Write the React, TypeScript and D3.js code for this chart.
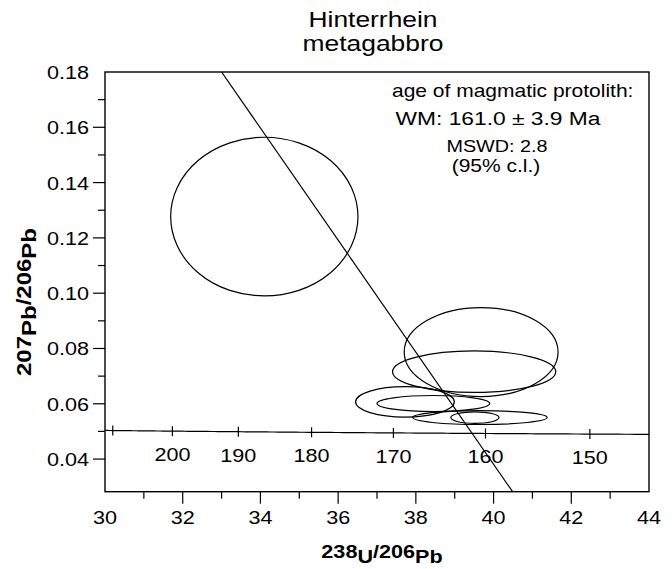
import React from "react";
import * as d3 from "d3";

// Tera-Wasserburg plot, Hinterrhein metagabbro
const xTicks = [30, 32, 34, 36, 38, 40, 42, 44];
const xMinor = [31, 33, 35, 37, 39, 41, 43];
const yTicks = [0.04, 0.06, 0.08, 0.1, 0.12, 0.14, 0.16, 0.18];
const yMinor = [0.05, 0.07, 0.09, 0.11, 0.13, 0.15, 0.17];

// concordia age marks (Ma)
const ageTicks = [150, 160, 170, 180, 190, 200, 210];
const ageLabels = [150, 160, 170, 180, 190, 200];

// error ellipses: centre 238U/206Pb, centre 207Pb/206Pb, half-widths
const ellX = [34.1, 39.68, 39.5, 37.72, 38.45, 39.65, 39.52];
const ellY = [0.1277, 0.0787, 0.0716, 0.0607, 0.0601, 0.055, 0.055];
const ellRx = [2.41, 1.98, 2.1, 1.27, 1.45, 1.73, 0.62];
const ellRy = [0.0287, 0.0161, 0.0075, 0.0055, 0.0029, 0.0025, 0.0021];

// anchored regression line, read where it meets the frame
const refLine: [number, number][] = [
  [33.0, 0.18],
  [40.49, 0.0282],
];

const annotation = ["age of magmatic protolith:", "WM: 161.0 \u00b1 3.9 Ma", "MSWD: 2.8", "(95% c.l.)"];

const L238 = 1.55125e-10;
const L235 = 9.8485e-10;
const U85 = 137.88;
const concordia = (t: number): [number, number] => {
  const e8 = Math.exp(L238 * t * 1e6) - 1;
  const e5 = Math.exp(L235 * t * 1e6) - 1;
  return [1 / e8, e5 / (U85 * e8)];
};

const SX = 1.2;
const FONT = "'Liberation Sans', Arial, Helvetica, sans-serif";

const T = ({ x, y, size, anchor = "start", bold = false, rot = false, children }: any) => (
  <text
    transform={`translate(${x},${y})${rot ? " rotate(-90)" : ""} scale(${SX},1)`}
    fontSize={size}
    fontFamily={FONT}
    fontWeight={bold ? "bold" : "normal"}
    textAnchor={anchor}
    fill="#000"
  >
    {children}
  </text>
);

const App = () => {
  const W = 672;
  const H = 569;
  const left = 105, right = 649, top = 72, bottom = 491.7;

  const x = d3.scaleLinear().domain([30, 44]).range([left, right]);
  const y = d3.scaleLinear().domain([0.0282, 0.18]).range([bottom, top]);

  const curve = d3
    .line<number>()
    .x((t) => x(concordia(t)[0]))
    .y((t) => y(concordia(t)[1]));
  const ages = d3.range(140, 216, 0.5);

  return (
    <svg width={W} height={H} style={{ position: "absolute", left: 0, top: 0, background: "#fff" }}>
      <defs>
        <clipPath id="plot">
          <rect x={left} y={top} width={right - left} height={bottom - top} />
        </clipPath>
      </defs>

      <T x={373} y={27} size={22} anchor="middle">Hinterrhein</T>
      <T x={373} y={51} size={22} anchor="middle">metagabbro</T>

      <g clipPath="url(#plot)" fill="none" stroke="#000">
        <path d={curve(ages) || ""} strokeWidth={1.2} />
        <line
          x1={x(refLine[0][0])}
          y1={y(refLine[0][1])}
          x2={x(refLine[1][0])}
          y2={y(refLine[1][1])}
          strokeWidth={1.2}
        />
        {ellX.map((cx, i) => (
          <ellipse
            key={i}
            cx={x(cx)}
            cy={y(ellY[i])}
            rx={x(cx + ellRx[i]) - x(cx)}
            ry={y(ellY[i]) - y(ellY[i] + ellRy[i])}
            strokeWidth={1.2}
          />
        ))}
        {ageTicks.map((a) => {
          const [cx, cy] = concordia(a);
          return <line key={a} x1={x(cx)} x2={x(cx)} y1={y(cy) - 5} y2={y(cy) + 5} strokeWidth={1.2} />;
        })}
      </g>
      {ageLabels.map((a) => {
        const [cx, cy] = concordia(a);
        return (
          <T key={a} x={x(cx)} y={y(cy) + 30} size={18} anchor="middle">
            {a}
          </T>
        );
      })}

      <rect x={left} y={top} width={right - left} height={bottom - top} fill="none" stroke="#000" strokeWidth={1.4} />

      {/* x axis */}
      {xTicks.map((v) => (
        <g key={v}>
          {v > 30 && v < 44 && <line x1={x(v)} x2={x(v)} y1={bottom} y2={bottom + 12} stroke="#000" strokeWidth={1.2} />}
          <T x={x(v)} y={524} size={18} anchor="middle">
            {v}
          </T>
        </g>
      ))}
      {xMinor.map((v) => (
        <line key={v} x1={x(v)} x2={x(v)} y1={bottom} y2={bottom + 7} stroke="#000" strokeWidth={1.2} />
      ))}

      {/* y axis */}
      {yTicks.map((v) => (
        <g key={v}>
          {v < 0.18 && <line x1={left - 12} x2={left} y1={y(v)} y2={y(v)} stroke="#000" strokeWidth={1.2} />}
          <T x={89} y={y(v) + 7} size={18} anchor="end">
            {v.toFixed(2)}
          </T>
        </g>
      ))}
      {yMinor.map((v) => (
        <line key={v} x1={left - 7} x2={left} y1={y(v)} y2={y(v)} stroke="#000" strokeWidth={1.2} />
      ))}

      {/* axis titles */}
      <T x={382} y={558} size={18} anchor="middle" bold>
        238<tspan dy={5}>U</tspan>
        <tspan dy={-5}>/206</tspan>
        <tspan dy={5}>Pb</tspan>
      </T>
      <T x={31} y={302} size={20} anchor="middle" bold rot>
        207<tspan dy={5}>Pb</tspan>
        <tspan dy={-5}>/206</tspan>
        <tspan dy={5}>Pb</tspan>
      </T>

      {/* annotation */}
      <T x={392} y={97} size={17.5}>{annotation[0]}</T>
      <T x={498} y={125} size={19} anchor="middle">{annotation[1]}</T>
      <T x={497} y={152} size={16.5} anchor="middle">{annotation[2]}</T>
      <T x={496} y={172} size={17.5} anchor="middle">{annotation[3]}</T>
    </svg>
  );
};

export default App;
